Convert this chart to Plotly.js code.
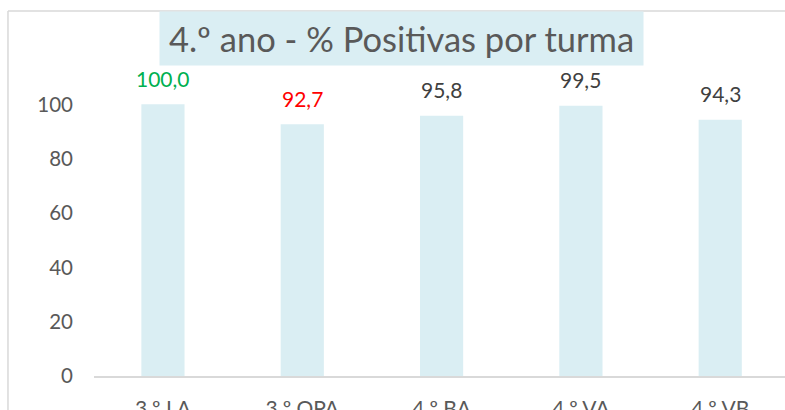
<!DOCTYPE html>
<html>
<head>
<meta charset="utf-8">
<script src="https://cdn.plot.ly/plotly-3.0.1.min.js"></script>
<style>html,body{margin:0;padding:0;background:#fff;}#chart{width:785px;height:410px;}</style>
</head>
<body>
<div id="chart"></div>
<script>
const categories = ['3.º LA', '3.º OPA', '4.º BA', '4.º VA', '4.º VB'];
const values = [100.0, 92.7, 95.8, 99.5, 94.3];
const labelColors = ['#00B050', '#FF0000', '#404040', '#404040', '#404040'];
const yTicks = [0, 20, 40, 60, 80, 100];
const chartTitle = '4.º ano - % Positivas por turma';

const FONT = 'Lato, "Open Sans", sans-serif';
const idx = categories.map((_, i) => i);

const trace = {
  type: 'bar',
  x: idx,
  y: values,
  marker: {color: '#DAEEF3'},
  hoverinfo: 'none'
};

const annotations = values.map((v, i) => ({
  x: i, y: v, xref: 'x', yref: 'y',
  text: v.toFixed(1).replace('.', ','),
  showarrow: false, yanchor: 'middle', yshift: 26,
  font: {family: FONT, size: 21, color: labelColors[i]}
}));

annotations.push({
  xref: 'paper', yref: 'paper', x: 0.445, y: 1.035,
  xanchor: 'center', yanchor: 'middle',
  text: chartTitle, showarrow: false,
  width: 483, height: 53, bgcolor: '#DAEEF3', borderpad: 0,
  font: {family: FONT, size: 34.5, color: '#595959'}
});

const layout = {
  width: 785, height: 410,
  margin: {l: 94, r: 0, t: 50, b: 34},
  paper_bgcolor: '#ffffff', plot_bgcolor: '#ffffff',
  showlegend: false,
  bargap: 0.69,
  font: {family: FONT, color: '#595959', size: 20},
  xaxis: {
    range: [-0.495, 4.465],
    tickvals: idx, ticktext: categories,
    showgrid: false, zeroline: false,
    showline: true, linecolor: '#D9D9D9', linewidth: 1.5,
    ticks: '', ticklabelstandoff: 13,
    tickfont: {family: FONT, size: 21, color: '#595959'},
    fixedrange: true
  },
  yaxis: {
    range: [0, 120],
    tickvals: yTicks, ticktext: yTicks.map(String),
    showgrid: false, zeroline: false, showline: false,
    ticks: '', ticklabelstandoff: 20,
    tickfont: {family: FONT, size: 20.5, color: '#595959'},
    fixedrange: true
  },
  shapes: [
    {type: 'line', xref: 'paper', yref: 'paper', x0: -0.1245, x1: -0.1245, y0: -0.2, y1: 1.1196,
     line: {color: '#D9D9D9', width: 1.5}},
    {type: 'line', xref: 'paper', yref: 'paper', x0: -0.1245, x1: 1.05, y0: 1.1196, y1: 1.1196,
     line: {color: '#D9D9D9', width: 1.5}}
  ],
  annotations: annotations
};

Plotly.newPlot('chart', [trace], layout, {displayModeBar: false, staticPlot: true});
</script>
</body>
</html>
